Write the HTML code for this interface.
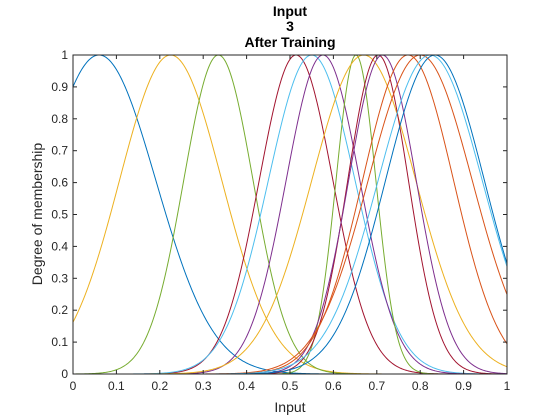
<!DOCTYPE html>
<html><head><meta charset="utf-8"><style>
body{margin:0;background:#fff}
svg{display:block;font-family:"Liberation Sans",sans-serif}
</style></head><body>
<svg id="c" width="560" height="420">
<rect x="0" y="0" width="560" height="420" fill="#fff"/>
<text x="290" y="16" text-anchor="middle" font-size="14" font-weight="bold" fill="#000">Input</text>
<text x="290" y="31" text-anchor="middle" font-size="14" font-weight="bold" fill="#000">3</text>
<text x="290" y="47" text-anchor="middle" font-size="14" font-weight="bold" fill="#000">After Training</text>
<g id="plot"></g>
<text x="290" y="412" text-anchor="middle" font-size="14" fill="#262626">Input</text>
<text transform="translate(42,214) rotate(-90)" text-anchor="middle" font-size="14" fill="#262626">Degree of membership</text>
</svg>
<script>
const centers=[0.06,0.225,0.335,0.514,0.55,0.576,0.652,0.67,0.703,0.713,0.772,0.80,0.823,0.834];
const sigmas=[0.131,0.118,0.08,0.085,0.1,0.085,0.046,0.12,0.07,0.078,0.105,0.12,0.12,0.114];
const colors=["#0072BD","#EDB120","#77AC30","#A2142F","#4DBEEE","#7E2F8E","#77AC30","#EDB120","#A2142F","#7E2F8E","#D95319","#D95319","#4DBEEE","#0072BD"];
const xTicks=[0,0.1,0.2,0.3,0.4,0.5,0.6,0.7,0.8,0.9,1];
const xTickLabels=["0","0.1","0.2","0.3","0.4","0.5","0.6","0.7","0.8","0.9","1"];
const yTicks=[0,0.1,0.2,0.3,0.4,0.5,0.6,0.7,0.8,0.9,1];
const yTickLabels=["0","0.1","0.2","0.3","0.4","0.5","0.6","0.7","0.8","0.9","1"];
const L=73,R=507,T=55,B=374;
const sx=v=>L+(R-L)*v, sy=v=>B-(B-T)*v;
const g=document.getElementById('plot');
const NS="http://www.w3.org/2000/svg";
function mk(t,a){const e=document.createElementNS(NS,t);for(const k in a)e.setAttribute(k,a[k]);g.appendChild(e);return e;}
centers.forEach((c,i)=>{
  let d="";
  for(let k=0;k<=400;k++){const x=k/400;const y=Math.exp(-((x-c)**2)/(2*sigmas[i]**2));d+=(k?"L":"M")+sx(x).toFixed(2)+","+sy(y).toFixed(2);}
  const p=mk('path',{d:d,fill:"none",stroke:colors[i],"stroke-width":"1"});
  
  
});
const box=mk('rect',{x:L,y:T,width:R-L,height:B-T,fill:"none",stroke:"#262626","stroke-width":"1"});


xTicks.forEach((v,i)=>{
  const x=sx(v);
  mk('line',{x1:x,x2:x,y1:B,y2:B-4,stroke:"#262626"});
  mk('line',{x1:x,x2:x,y1:T,y2:T+4,stroke:"#262626"});
  const t=mk('text',{x:x,y:B+16,"text-anchor":"middle","font-size":"12",fill:"#262626"});
  t.textContent=xTickLabels[i];
  
  
});
yTicks.forEach((v,i)=>{
  const y=sy(v);
  mk('line',{x1:L,x2:L+4,y1:y,y2:y,stroke:"#262626"});
  mk('line',{x1:R,x2:R-4,y1:y,y2:y,stroke:"#262626"});
  const t=mk('text',{x:L-5,y:y+4,"text-anchor":"end","font-size":"12",fill:"#262626"});
  t.textContent=yTickLabels[i];
  
  
});
</script>
</body></html>
